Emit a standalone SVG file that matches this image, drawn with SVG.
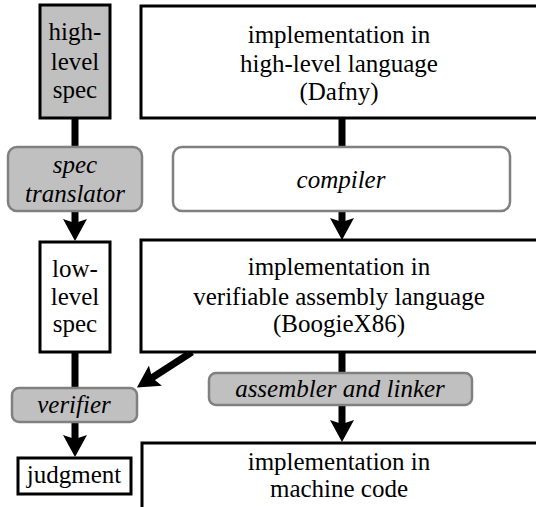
<svg xmlns="http://www.w3.org/2000/svg" width="536" height="507" viewBox="0 0 536 507">
<defs>
<marker id="ah" viewBox="0 0 22 24" refX="10" refY="12" markerWidth="22" markerHeight="24" markerUnits="userSpaceOnUse" orient="auto">
<path d="M0,0 L22,12 L0,24 L4,12 z" fill="#000"/>
</marker>
</defs>
<g id="connectors" stroke="#000" stroke-width="7" fill="none">
<line x1="75" y1="118" x2="75" y2="148"/>
<line x1="75" y1="210" x2="75" y2="229" marker-end="url(#ah)"/>
<line x1="342" y1="118" x2="342" y2="148"/>
<line x1="342" y1="210" x2="342" y2="228" marker-end="url(#ah)"/>
<line x1="75" y1="352" x2="75" y2="389"/>
<line x1="75" y1="421" x2="75" y2="445" marker-end="url(#ah)"/>
<line x1="192" y1="352" x2="147" y2="381" marker-end="url(#ah)"/>
<line x1="342" y1="352" x2="342" y2="374"/>
<line x1="342" y1="404" x2="342" y2="430" marker-end="url(#ah)"/>
</g>
<g font-family="Liberation Serif" font-size="25" text-anchor="middle" fill="#000">
<g id="high-level-spec">
<rect x="40" y="5" width="70" height="113" fill="#c0c0c0" stroke="#000" stroke-width="3"/>
<text x="75" y="40">high-</text>
<text x="75" y="70">level</text>
<text x="75" y="98">spec</text>
</g>
<g id="impl-dafny">
<rect x="141" y="6" width="400" height="112" fill="#fff" stroke="#000" stroke-width="3"/>
<text x="339" y="43">implementation in</text>
<text x="339" y="72">high-level language</text>
<text x="339" y="100">(Dafny)</text>
</g>
<g id="spec-translator" font-style="italic">
<rect x="8" y="147" width="134" height="64" rx="9" fill="#c0c0c0" stroke="#808080" stroke-width="2.5"/>
<text x="75" y="173">spec</text>
<text x="75" y="202">translator</text>
</g>
<g id="compiler" font-style="italic">
<rect x="173" y="147" width="337" height="64" rx="9" fill="#fff" stroke="#808080" stroke-width="2.5"/>
<text x="341" y="188">compiler</text>
</g>
<g id="low-level-spec">
<rect x="40" y="242" width="70" height="110" fill="#fff" stroke="#000" stroke-width="3"/>
<text x="75" y="277">low-</text>
<text x="75" y="305">level</text>
<text x="75" y="332">spec</text>
</g>
<g id="impl-boogiex86">
<rect x="141" y="240" width="400" height="112" fill="#fff" stroke="#000" stroke-width="3"/>
<text x="339" y="275">implementation in</text>
<text x="339" y="305">verifiable assembly language</text>
<text x="339" y="332">(BoogieX86)</text>
</g>
<g id="verifier" font-style="italic">
<rect x="12" y="388" width="125" height="34" rx="7" fill="#c0c0c0" stroke="#808080" stroke-width="2.5"/>
<text x="74" y="413">verifier</text>
</g>
<g id="assembler-linker" font-style="italic">
<rect x="209" y="373" width="263" height="32" rx="7" fill="#c0c0c0" stroke="#808080" stroke-width="2.5"/>
<text x="340" y="397">assembler and linker</text>
</g>
<g id="judgment">
<rect x="18" y="458" width="113" height="36" fill="#fff" stroke="#000" stroke-width="3"/>
<text x="74" y="483">judgment</text>
</g>
<g id="impl-machine">
<rect x="142" y="443" width="400" height="70" fill="#fff" stroke="#000" stroke-width="3"/>
<text x="339" y="470">implementation in</text>
<text x="339" y="497">machine code</text>
</g>
</g>
</svg>
